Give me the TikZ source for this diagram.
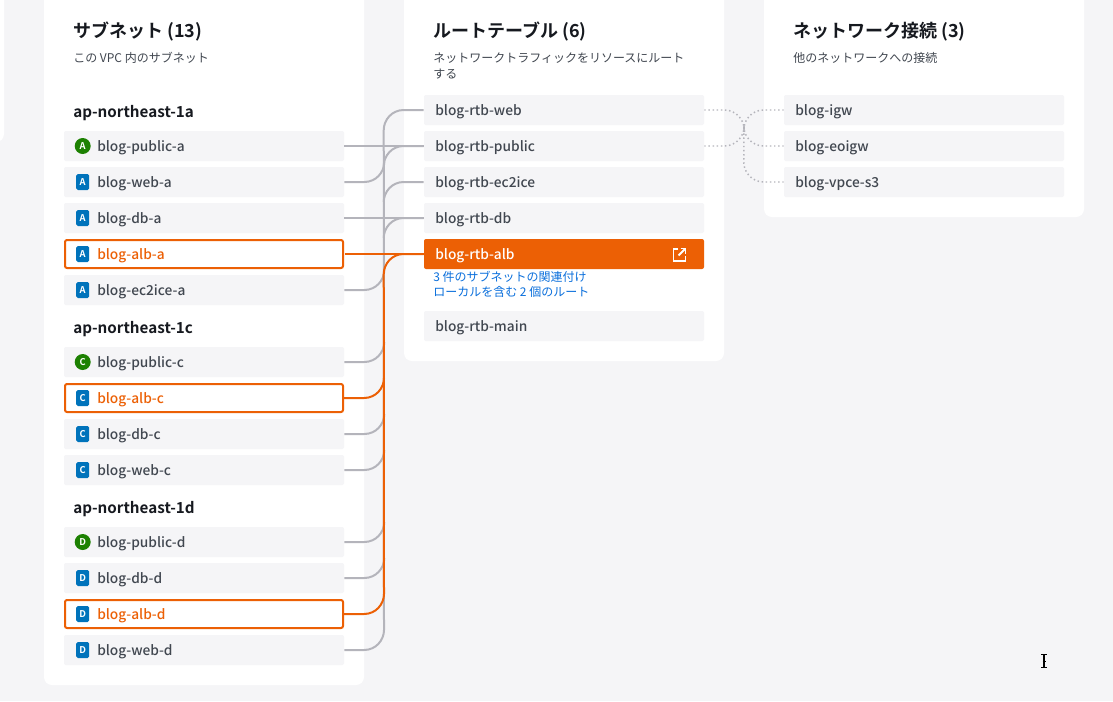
\documentclass[tikz,border=0pt]{standalone}
\usepackage{fontspec}
\setmainfont{Noto Sans CJK JP}
\newfontfamily\boldjp{Noto Sans CJK JP Bold}
\newfontfamily\medjp{Noto Sans CJK JP Medium}
\definecolor{pagebg}{HTML}{F5F5F7}
\definecolor{itembg}{HTML}{F5F5F7}
\definecolor{ink}{HTML}{414750}
\definecolor{head}{HTML}{16191F}
\definecolor{sel}{HTML}{EC6005}
\definecolor{wire}{HTML}{B4B4BB}
\definecolor{linkblue}{HTML}{0A6FDC}
\definecolor{azgreen}{HTML}{1D8102}
\definecolor{azblue}{HTML}{0073BB}
\tikzset{
  x=0.75pt,y=-0.75pt,
  card/.style={fill=white,rounded corners=6pt},
  itembox/.style={fill=itembg,rounded corners=1.5pt,minimum width=210pt,minimum height=22.5pt,inner sep=0pt},
  selbox/.style={fill=white,draw=sel,line width=1.5pt,rounded corners=1.5pt,minimum width=208.5pt,minimum height=21pt,inner sep=0pt},
  rtbsel/.style={fill=sel,rounded corners=1.5pt,minimum width=210pt,minimum height=22.5pt,inner sep=0pt},
  itemtext/.style={anchor=west,inner sep=0pt,yshift=-1.4pt,text=ink,font=\medjp\fontsize{10.3}{12}\selectfont},
  title/.style={anchor=west,inner sep=0pt,yshift=-1.5pt,text=head,font=\boldjp\fontsize{13.5}{16}\selectfont},
  zone/.style={anchor=west,inner sep=0pt,yshift=-1.5pt,text=head,font=\boldjp\fontsize{11.4}{14}\selectfont},
  subtext/.style={anchor=west,inner sep=0pt,yshift=-0.6pt,text=ink,font=\fontsize{9}{12}\selectfont},
  linktext/.style={anchor=west,inner sep=0pt,yshift=-0.5pt,text=linkblue,font=\fontsize{9}{11}\selectfont},
  pubicon/.style={circle,fill=azgreen,minimum size=12pt,inner sep=0pt,text=white,font=\boldjp\fontsize{7}{7}\selectfont},
  privicon/.style={rounded corners=1.2pt,fill=azblue,minimum width=9.75pt,minimum height=12pt,inner sep=0pt,text=white,font=\boldjp\fontsize{7}{7}\selectfont},
  wiregray/.style={draw=wire,line width=1.5pt},
  wiresel/.style={draw=sel,line width=1.5pt},
  wiredot/.style={draw=wire,line width=1.1pt,dotted},
}
\newcommand{\snet}[5]{% name, y, icon style, letter, text
  \node[itembox] (#1) at (204,#2) {};
  \node[#3] (#1-i) at (82.7,#2) {#4};
  \node[itemtext] (#1-t) at (97,#2) {#5};}
\newcommand{\snetsel}[5]{%
  \node[selbox] (#1) at (204,#2) {};
  \node[#3] (#1-i) at (82.7,#2) {#4};
  \node[itemtext,text=sel] (#1-t) at (97,#2) {#5};}
\newcommand{\rtb}[3]{%
  \node[itembox] (#1) at (564,#2) {};
  \node[itemtext] (#1-t) at (435,#2) {#3};}
\newcommand{\conn}[3]{%
  \node[itembox] (#1) at (924,#2) {};
  \node[itemtext] (#1-t) at (795,#2) {#3};}
% subnet port to trunk, going up
\newcommand{\upwire}[2]{\draw[#2] (#1.east) -- ++(20,0) .. controls +(12,0) and +(0,10) .. ++(20,-20);}
% route table port to trunk, going down
\newcommand{\downwire}[2]{\draw[#2] (#1.west) -- ++(-20,0) .. controls +(-12,0) and +(0,-10) .. ++(-20,20);}
\begin{document}
\begin{tikzpicture}
\useasboundingbox (0,0) rectangle (1113,701);
\clip (0,0) rectangle (1113,701);
\fill[pagebg] (0,0) rectangle (1113,701);
\fill[card] (-20,-20) rectangle (4,142);
\fill[card] (44,-20) rectangle (364,685);
\fill[card] (404,-20) rectangle (724,361);
\fill[card] (764,-20) rectangle (1084,217);
% headings
\node[title] (t1) at (73,30) {サブネット (13)};
\node[subtext] (s1) at (73,57) {この VPC 内のサブネット};
\node[title] (t2) at (433,30) {ルートテーブル (6)};
\node[subtext] (s2) at (433,57) {ネットワークトラフィックをリソースにルート};
\node[subtext] (s2b) at (433,73) {する};
\node[title] (t3) at (793,30) {ネットワーク接続 (3)};
\node[subtext] (s3) at (793,57) {他のネットワークへの接続};
\node[zone] (z1) at (73,111) {ap-northeast-1a};
\node[zone] (z2) at (73,327) {ap-northeast-1c};
\node[zone] (z3) at (73,507) {ap-northeast-1d};
% subnets
\snet{puba}{146}{pubicon}{A}{blog-public-a}
\snet{weba}{182}{privicon}{A}{blog-web-a}
\snet{dba}{218}{privicon}{A}{blog-db-a}
\snetsel{alba}{254}{privicon}{A}{blog-alb-a}
\snet{eca}{290}{privicon}{A}{blog-ec2ice-a}
\snet{pubc}{362}{pubicon}{C}{blog-public-c}
\snetsel{albc}{398}{privicon}{C}{blog-alb-c}
\snet{dbc}{434}{privicon}{C}{blog-db-c}
\snet{webc}{470}{privicon}{C}{blog-web-c}
\snet{pubd}{542}{pubicon}{D}{blog-public-d}
\snet{dbd}{578}{privicon}{D}{blog-db-d}
\snetsel{albd}{614}{privicon}{D}{blog-alb-d}
\snet{webd}{650}{privicon}{D}{blog-web-d}
% route tables
\rtb{rweb}{110}{blog-rtb-web}
\rtb{rpub}{146}{blog-rtb-public}
\rtb{rec}{182}{blog-rtb-ec2ice}
\rtb{rdb}{218}{blog-rtb-db}
\node[rtbsel] (ralb) at (564,254) {};
\node[itemtext,text=white] (ralb-t) at (435,254) {blog-rtb-alb};
\rtb{rmain}{326}{blog-rtb-main}
\node[linktext] (l1) at (433,276) {3 件のサブネットの関連付け};
\node[linktext] (l2) at (433,291) {ローカルを含む 2 個のルート};
% external link icon
\draw[white,line width=1.4pt,line join=miter] (678,249) -- (673.5,249) -- (673.5,261) -- (685.5,261) -- (685.5,256);
\draw[white,line width=1.4pt] (678.5,255.5) -- (685,249);
\draw[white,line width=1.4pt,line join=miter] (680.5,248.5) -- (685.5,248.5) -- (685.5,253.5);
% connections
\conn{igw}{110}{blog-igw}
\conn{eoigw}{146}{blog-eoigw}
\conn{vpce}{182}{blog-vpce-s3}
% gray wires
\draw[wiregray] (rweb.west) -- ++(-20,0) .. controls +(-12,0) and +(0,-10) .. ++(-20,20) -- (384,630) .. controls +(0,10) and +(12,0) .. (364,650) -- (webd.east);
\draw[wiregray] (puba.east) -- (rpub.west);
\draw[wiregray] (dba.east) -- (rdb.west);
\upwire{weba}{wiregray}
\upwire{eca}{wiregray}
\upwire{pubc}{wiregray}
\upwire{dbc}{wiregray}
\upwire{webc}{wiregray}
\upwire{pubd}{wiregray}
\upwire{dbd}{wiregray}
\downwire{rpub}{wiregray}
\downwire{rec}{wiregray}
\downwire{rdb}{wiregray}
% selected wires
\draw[wiresel] (alba.east) ++(0.75,0) -- (ralb.west);
\draw[wiresel] (ralb.west) -- ++(-20,0) .. controls +(-12,0) and +(0,-10) .. ++(-20,20) -- (384,594) .. controls +(0,10) and +(12,0) .. (364,614) -- (albd.east);
\upwire{albc}{wiresel}
% dotted wires
\draw[wiredot] (rweb.east) -- ++(20,0) .. controls +(12,0) and +(0,-10) .. ++(20,20);
\draw[wiredot] (rpub.east) -- ++(20,0) .. controls +(12,0) and +(0,10) .. ++(20,-20);
\draw[wiredot] (igw.west) -- ++(-20,0) .. controls +(-12,0) and +(0,-10) .. ++(-20,20);
\draw[wiredot] (eoigw.west) -- ++(-20,0) .. controls +(-12,0) and +(0,10) .. ++(-20,-20);
\draw[wiredot] (vpce.west) -- ++(-20,0) .. controls +(-12,0) and +(0,10) .. ++(-20,-20) -- (744,130);
% cursor
\draw[black,line width=0.9pt] (1044,655) -- (1044,667);
\draw[black,line width=0.9pt] (1041,654.5) -- (1047,654.5);
\draw[black,line width=0.9pt] (1041,667.5) -- (1047,667.5);
\draw[black,line width=0.7pt] (1042.5,661) -- (1045.5,661);
\end{tikzpicture}
\end{document}
